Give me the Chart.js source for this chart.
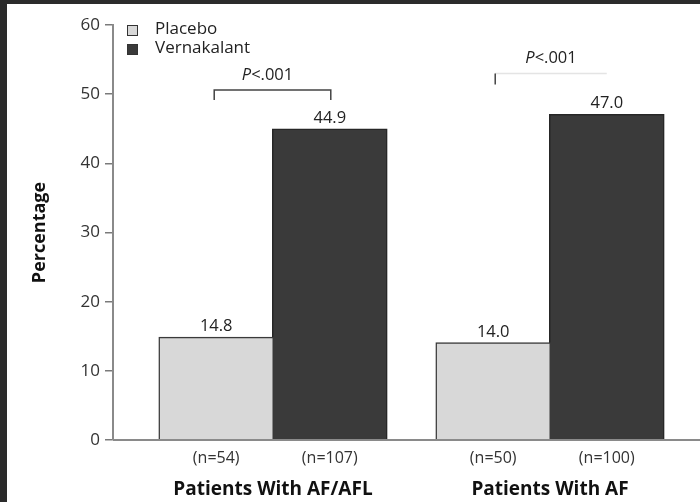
<!DOCTYPE html>
<html>
<head>
<meta charset="utf-8">
<script src="https://cdn.jsdelivr.net/npm/chart.js@4"></script>
<style>
  html, body { margin: 0; padding: 0; background: #2b2b2b; }
  #wrap { width: 700px; height: 502px; }
</style>
</head>
<body>
<div id="wrap"><canvas id="chart" width="700" height="502"></canvas></div>
<script>
// dados
const groups = ['Patients With AF/AFL', 'Patients With AF'];
const seriesNames = ['Placebo', 'Vernakalant'];
const placebo = [14.8, 14.0];
const vernakalant = [44.9, 47.0];
const placeboN = ['(n=54)', '(n=50)'];
const vernakalantN = ['(n=107)', '(n=100)'];
const pLabels = ['P<.001', 'P<.001'];
const yTicks = [0, 10, 20, 30, 40, 50, 60];

const FONT = '"Open Sans", Lato, sans-serif';
const placeboColor = '#d8d8d8';
const vernaColor = '#3a3a3a';

// posições x das categorias (1, 2) numa escala linear
const toPoints = arr => arr.map((v, i) => ({ x: i + 1, y: v }));

const annotations = {
    id: 'annotations',
    beforeDraw(chart) {
        const ctx = chart.ctx;
        ctx.save();
        // moldura escura
        ctx.fillStyle = '#2b2b2b';
        ctx.fillRect(0, 0, chart.width, chart.height);
        ctx.fillStyle = '#ffffff';
        ctx.fillRect(7, 4, chart.width - 7, chart.height - 4);
        ctx.restore();
    },
    afterDraw(chart) {
        const ctx = chart.ctx;
        const x = chart.scales.x;
        const y = chart.scales.y;
        const area = chart.chartArea;
        ctx.save();

        // linha do eixo x
        ctx.strokeStyle = '#8a8a8a';
        ctx.lineWidth = 2;
        ctx.beginPath();
        ctx.moveTo(area.left, y.getPixelForValue(0));
        ctx.lineTo(area.right, y.getPixelForValue(0));
        ctx.stroke();

        // valores em cima das barras e n por baixo
        ctx.textAlign = 'center';
        chart.data.datasets.forEach((ds, di) => {
            const meta = chart.getDatasetMeta(di);
            meta.data.forEach((bar, i) => {
                ctx.fillStyle = '#222';
                ctx.font = '16.5px ' + FONT;
                ctx.textBaseline = 'bottom';
                ctx.fillText(ds.data[i].y.toFixed(1), bar.x, bar.y - 3);
                ctx.fillStyle = '#333';
                ctx.font = '16px ' + FONT;
                ctx.textBaseline = 'middle';
                const n = di === 0 ? placeboN[i] : vernakalantN[i];
                ctx.fillText(n, bar.x, y.getPixelForValue(0) + 18);
            });
        });

        // nomes dos grupos
        ctx.fillStyle = '#111';
        ctx.font = 'bold 19px ' + FONT;
        ctx.textBaseline = 'middle';
        groups.forEach((g, i) => {
            ctx.fillText(g, x.getPixelForValue(i + 1), 490);
        });

        // chavetas de significância
        const b0 = chart.getDatasetMeta(0).data;
        const b1 = chart.getDatasetMeta(1).data;
        // grupo 1
        let x1 = b0[0].x - 2, x2 = b1[0].x + 1;
        let yb = y.getPixelForValue(50.6);
        ctx.strokeStyle = '#444';
        ctx.lineWidth = 1.5;
        ctx.beginPath();
        ctx.moveTo(x1, yb + 10);
        ctx.lineTo(x1, yb);
        ctx.lineTo(x2, yb);
        ctx.lineTo(x2, yb + 10);
        ctx.stroke();
        drawP(ctx, pLabels[0], (x1 + x2) / 2 - 5, yb - 15);

        // grupo 2 (linha quase apagada na figura)
        x1 = b0[1].x + 2; x2 = b1[1].x;
        yb = y.getPixelForValue(53);
        ctx.strokeStyle = '#e4e4e4';
        ctx.beginPath();
        ctx.moveTo(x1, yb);
        ctx.lineTo(x2, yb);
        ctx.stroke();
        ctx.strokeStyle = '#444';
        ctx.beginPath();
        ctx.moveTo(x1, yb);
        ctx.lineTo(x1, yb + 11);
        ctx.stroke();
        drawP(ctx, pLabels[1], (x1 + x2) / 2, yb - 15);

        // legenda
        const lx = 127;
        [placeboColor, vernaColor].forEach((c, i) => {
            const ly = 25 + i * 19;
            ctx.fillStyle = c;
            ctx.fillRect(lx, ly, 10, 10);
            ctx.strokeStyle = '#333';
            ctx.lineWidth = 1;
            ctx.strokeRect(lx + 0.5, ly + 0.5, 10, 10);
            ctx.fillStyle = '#222';
            ctx.font = '17px ' + FONT;
            ctx.textAlign = 'left';
            ctx.textBaseline = 'middle';
            ctx.fillText(seriesNames[i], 155, ly + 4);
        });
        ctx.restore();
    }
};

// texto "P<.001" com o P em itálico
function drawP(ctx, label, cx, cy) {
    const first = label.charAt(0);
    const rest = label.slice(1);
    ctx.font = 'italic 16.5px ' + FONT;
    const w1 = ctx.measureText(first).width;
    ctx.font = '16.5px ' + FONT;
    const w2 = ctx.measureText(rest).width;
    const start = cx - (w1 + w2) / 2;
    ctx.fillStyle = '#222';
    ctx.textAlign = 'left';
    ctx.textBaseline = 'middle';
    ctx.font = 'italic 16.5px ' + FONT;
    ctx.fillText(first, start, cy);
    ctx.font = '16.5px ' + FONT;
    ctx.fillText(rest, start + w1, cy);
    ctx.textAlign = 'center';
}

new Chart(document.getElementById('chart'), {
    type: 'bar',
    data: {
        datasets: [{
            label: seriesNames[0],
            data: toPoints(placebo),
            backgroundColor: placeboColor,
            borderColor: '#3a3a3a',
            borderWidth: 1.5,
            inflateAmount: 1
        }, {
            label: seriesNames[1],
            data: toPoints(vernakalant),
            backgroundColor: vernaColor,
            borderColor: '#262626',
            borderWidth: 1.5,
            inflateAmount: 1
        }]
    },
    options: {
        responsive: false,
        animation: false,
        layout: { padding: { top: 25, bottom: 62, left: 0, right: 0 } },
        categoryPercentage: 0.82,
        barPercentage: 1.0,
        plugins: {
            legend: { display: false },
            tooltip: { enabled: false }
        },
        scales: {
            x: {
                type: 'linear',
                min: 0.4224,
                max: 2.5415,
                offset: false,
                display: false,
                afterBuildTicks: (scale) => {
                    scale.ticks = groups.map((g, i) => ({ value: i + 1 }));
                }
            },
            y: {
                min: 0,
                max: 60,
                afterFit: (scale) => { scale.width = 113; },
                afterBuildTicks: (scale) => {
                    scale.ticks = yTicks.map(v => ({ value: v }));
                },
                ticks: {
                    padding: 5,
                    color: '#333',
                    font: { family: FONT, size: 17 }
                },
                grid: {
                    drawOnChartArea: false,
                    tickLength: 8,
                    color: '#7a7a7a',
                    lineWidth: 1.5
                },
                border: { color: '#8a8a8a', width: 2 },
                title: {
                    display: true,
                    text: 'Percentage',
                    color: '#111',
                    font: { family: FONT, size: 18, weight: 'bold' },
                    padding: { top: 29, bottom: 0 }
                }
            }
        }
    },
    plugins: [annotations]
});
</script>
</body>
</html>
